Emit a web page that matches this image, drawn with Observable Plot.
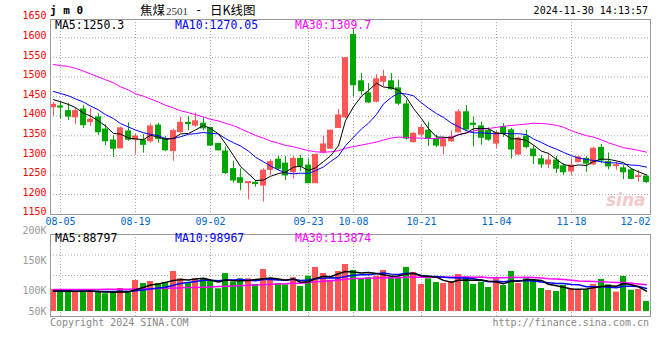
<!DOCTYPE html>
<html><head><meta charset="utf-8">
<script src="https://cdn.jsdelivr.net/npm/d3@7"></script>
<script src="https://cdn.jsdelivr.net/npm/@observablehq/plot@0.6"></script>
<style>
html,body{margin:0;padding:0;background:#fff;}
#wrap{position:relative;width:660px;height:360px;overflow:hidden;background:#fff;font-family:"DejaVu Sans Mono",monospace;}
#wrap svg{position:absolute;left:0;}
.t{position:absolute;white-space:pre;line-height:1;}
</style></head><body><div id="wrap"></div>
<script>
// ---------- data ----------
const dates = ["08-02",
"08-05","08-06","08-07","08-08","08-09","08-12","08-13","08-14","08-15","08-16",
"08-19","08-20","08-21","08-22","08-23","08-26","08-27","08-28","08-29","08-30",
"09-02","09-03","09-04","09-05","09-06","09-09","09-10","09-11","09-12","09-13",
"09-18","09-19","09-20","09-23","09-24","09-25","09-26","09-27","09-30",
"10-08","10-09","10-10","10-11","10-14","10-15","10-16","10-17","10-18",
"10-21","10-22","10-23","10-24","10-25","10-28","10-29","10-30","10-31","11-01",
"11-04","11-05","11-06","11-07","11-08","11-11","11-12","11-13","11-14","11-15",
"11-18","11-19","11-20","11-21","11-22","11-25","11-26","11-27","11-28","11-29","12-02"];
const opens = [1423,1425,1413,1397,1417,1385,1397,1366,1338,1318,1361,1340,1338,1336,1376,1342,1311,1359,1383,1376,
1381,1370,1329,1310,1265,1242,1229,1230,1223,1263,1289,1279,1257,1291,1274,1229,1307,1317,1370,1397,
1607,1489,1458,1437,1488,1489,1471,1430,1334,1353,1363,1342,1323,1336,1359,1410,1381,1374,1362,1330,
1372,1364,1302,1348,1315,1290,1277,1287,1272,1259,1283,1291,1277,1319,1283,1273,1267,1262,1245,1246];
const highs = [1435,1436,1432,1420,1427,1419,1406,1378,1350,1372,1383,1355,1353,1380,1382,1348,1367,1397,1399,1408,
1396,1372,1331,1321,1285,1266,1233,1236,1266,1289,1297,1297,1297,1300,1291,1303,1349,1364,1417,1549,
1624,1509,1483,1506,1517,1509,1492,1441,1358,1377,1385,1352,1346,1363,1417,1427,1398,1385,1370,1362,
1381,1369,1346,1364,1325,1300,1304,1297,1279,1291,1297,1297,1321,1328,1306,1283,1274,1266,1262,1249];
const lows = [1399,1393,1389,1378,1369,1374,1351,1325,1295,1317,1336,1303,1306,1331,1331,1310,1285,1357,1363,1372,
1363,1323,1311,1251,1229,1210,1187,1219,1181,1249,1261,1236,1240,1259,1228,1228,1304,1316,1370,1394,
1450,1454,1432,1434,1475,1466,1427,1339,1331,1347,1323,1320,1302,1333,1357,1362,1322,1326,1336,1318,
1346,1291,1302,1317,1277,1267,1267,1254,1249,1249,1281,1257,1274,1279,1263,1262,1238,1238,1232,1228];
const closes = [1429,1422,1399,1413,1377,1391,1359,1336,1317,1369,1340,1348,1327,1374,1342,1313,1362,1383,1380,1387,
1369,1325,1313,1255,1236,1230,1232,1227,1261,1283,1266,1249,1291,1272,1229,1301,1328,1363,1402,1548,
1479,1464,1435,1494,1500,1469,1432,1343,1355,1370,1342,1325,1340,1346,1410,1366,1378,1345,1340,1357,
1355,1315,1343,1321,1298,1277,1287,1266,1257,1274,1295,1279,1317,1287,1272,1275,1257,1240,1247,1232];
// volume (thousands, read on the panel's axis)
const volumes = [102.8,102.8,101.6,97.5,97.5,102.8,97.5,93.6,96.1,104.4,100,117.4,112.5,115.8,112.5,113.7,132.1,120.2,112.5,120.2,
120.2,117.4,103.9,128.8,114.7,120.2,120.2,110.9,135.4,120.2,112.5,110.4,121.9,107.7,124.4,138.6,128.8,117.9,132.1,143.5,
133.7,120.2,121.9,124.4,133.7,121.9,121.9,138.6,130.5,110.9,120.2,114.2,112.5,115.3,127.2,122.8,110.9,114.7,106,120.2,
109.3,132.1,112.5,120.2,118.5,104.4,101.1,99.3,109.3,103.9,102.3,102.3,110.9,119.1,110.4,97.8,123.9,101.6,102.8,74.6];
// moving-average values before the window holds enough days
const ma5Lead = [1442,1437,1430,1422];
const ma10Lead = [1463,1458,1452,1444,1436,1426,1416,1404,1394];
const ma30Lead = [1532,1529,1527,1522,1515,1508,1500,1493,1485,1475,1467,1457,1451,1444,1436,1428,1421,1414,1409,1404,1398,1392,1388,1382,1376,1368,1359,1351,1344];
const volMa5Lead = [100.5,100.5,100,100];
const volMa10Lead = [100.5,100.5,100.5,100,100,100,99.5,99.5,99.5];
const volMa30Lead = [102.8,102.8,102.8,102.8,102.8,102.8,102.8,103,103,103,103,103.5,104,104,104.5,105,105,105.5,106,106,106.5,107,107.5,108,108.5,109,109.5,110,110.5];
const priceTicks = [1150,1200,1250,1300,1350,1400,1450,1500,1550,1600,1650];
const volTicks = [50,100,150,200];
const tickDates = ["08-05","08-19","09-02","09-23","10-08","10-21","11-04","11-18","12-02"];
const maTexts = ["MA5:1250.3","MA10:1270.05","MA30:1309.7"];
const volMaTexts = ["MA5:88797","MA10:98967","MA30:113874"];

// ---------- build ----------
const RED = "#ff5555", GREEN = "#00a600";
const candles = dates.map((d,i)=>({i, date:d, open:opens[i], high:highs[i], low:lows[i], close:closes[i], vol:volumes[i]}));
const col = d => d.close >= d.open ? RED : GREEN;
function ma(arr, n, lead){ return arr.map((_,i)=>({i, v: i < n-1 ? lead[i] : d3.mean(arr.slice(i-n+1,i+1))})); }
const ma5 = ma(closes,5,ma5Lead), ma10 = ma(closes,10,ma10Lead), ma30 = ma(closes,30,ma30Lead);
const vma5 = ma(volumes,5,volMa5Lead), vma10 = ma(volumes,10,volMa10Lead), vma30 = ma(volumes,30,volMa30Lead);
const tickIdx = tickDates.map(t=>dates.indexOf(t));
const MONO = "'DejaVu Sans Mono', monospace";
const GRID = {stroke:"#a8a8a8", strokeOpacity:1, strokeDasharray:"1,2"};
const xDomain = [-0.36, 79.56];
const W = 660, ML = 50, MR = 10;

const price = Plot.plot({
  width:W, height:230, marginLeft:ML, marginRight:MR, marginTop:19, marginBottom:16,
  style:{background:"transparent", fontFamily:MONO, fontSize:"10px", overflow:"visible"},
  x:{domain:xDomain, round:true},
  y:{domain:[1150,1650], range:[213.7,17.7]},
  color:{type:"identity"},
  marks:[
    Plot.gridY(priceTicks.filter(v=>v>1150&&v<1650), GRID),
    Plot.gridX(tickIdx.slice(0,-1), GRID),
    Plot.ruleX(candles, {x:"i", y1:"low", y2:"high", stroke:col, strokeWidth:1}),
    Plot.rect(candles, {x1:d=>d.i-0.4, x2:d=>d.i+0.4, y1:"open", y2:"close", fill:col, insetTop:-0.5, insetBottom:-0.5}),
    Plot.line(ma30, {x:"i", y:"v", stroke:"#ff00ff", strokeWidth:1, clip:true}),
    Plot.line(ma10, {x:"i", y:"v", stroke:"#0000ff", strokeWidth:1, clip:true}),
    Plot.line(ma5, {x:"i", y:"v", stroke:"#000000", strokeWidth:1, clip:true}),
    Plot.frame({stroke:"#999"}),
    Plot.axisY(priceTicks, {tickSize:0, tickPadding:4, fill:"#ff0000", dy:-2, label:null, tickFormat:d=>String(d)}),
    Plot.axisX(tickIdx.slice(0,-1), {tickSize:0, tickPadding:3, fill:"#0066cc", label:null, tickFormat:i=>dates[i]}),
    Plot.axisX(tickIdx.slice(-1), {tickSize:0, tickPadding:3, fill:"#0066cc", label:null, tickFormat:i=>dates[i], textAnchor:"end", dx:4})
  ]
});
price.style.top = "0px";

// volume panel: its axis labels are unevenly spaced, so the scale is piecewise
const VT = 220, VH = 100, VMT = 14, VMB = 4;
const volLift = d3.scaleLinear().domain(volTicks).range([0, 20.3, 51, 80.3]); // height above the 50K baseline
const baseY = 91, topLift = 80.3;
const quarterVals = [1,2,3].map(k=>{
  const px = VMT + k*((VH-VMB)-VMT)/4;
  return volLift.invert(baseY - px);
});
const vol = Plot.plot({
  width:W, height:VH, marginLeft:ML, marginRight:MR, marginTop:VMT, marginBottom:VMB,
  style:{background:"transparent", fontFamily:MONO, fontSize:"10px", overflow:"visible"},
  x:{domain:xDomain, round:true, axis:null},
  y:{transform:volLift, domain:[0, topLift], range:[baseY, baseY-topLift]},
  color:{type:"identity"},
  marks:[
    Plot.ruleY(quarterVals, GRID),
    Plot.gridX(tickIdx.slice(0,-1), GRID),
    Plot.rect(candles, {x1:d=>d.i-0.4, x2:d=>d.i+0.4, y1:()=>volTicks[0], y2:"vol", fill:col}),
    Plot.line(vma30, {x:"i", y:"v", stroke:"#ff00ff", strokeWidth:1.5, clip:true}),
    Plot.line(vma10, {x:"i", y:"v", stroke:"#0000ff", strokeWidth:1.5, clip:true}),
    Plot.line(vma5, {x:"i", y:"v", stroke:"#000000", strokeWidth:1.5, clip:true}),
    Plot.frame({stroke:"#999"}),
    Plot.axisY(volTicks, {tickSize:0, tickPadding:4, fill:"#999", label:null, tickFormat:d=>d+"K"})
  ]
});
vol.style.top = VT + "px";

const wrap = document.getElementById("wrap");
wrap.appendChild(price);
wrap.appendChild(vol);

function addText(txt, css){
  const el = document.createElement("div");
  el.className = "t"; el.textContent = txt;
  Object.assign(el.style, css);
  wrap.appendChild(el); return el;
}
// header
addText("j m 0", {left:"50px", top:"5px", fontSize:"11px", fontWeight:"bold", color:"#000"});
addText("焦煤", {left:"140px", top:"4px", fontSize:"12.5px", fontFamily:"'Noto Sans CJK SC',sans-serif", color:"#000"});
addText("2501", {left:"166px", top:"6px", fontSize:"11px", fontFamily:"'Liberation Serif',serif", color:"#333"});
addText("-", {left:"195px", top:"4px", fontSize:"12px", fontFamily:MONO, color:"#000"});
addText("日K线图", {left:"210px", top:"4px", fontSize:"12.5px", fontFamily:"'Noto Sans CJK SC',sans-serif", color:"#000"});
addText("2024-11-30 14:13:57", {right:"12px", top:"6px", fontSize:"10px", color:"#000"});
// MA legends
const maCols = ["#000000","#0000ff","#ff00ff"], maLeft = [55,175,295];
maTexts.forEach((t,k)=>addText(t,{left:maLeft[k]+"px", top:"19.5px", fontSize:"11.5px", color:maCols[k]}));
volMaTexts.forEach((t,k)=>addText(t,{left:maLeft[k]+"px", top:"233px", fontSize:"11.5px", color:maCols[k]}));
// watermark & footer
addText("sina", {left:"606px", top:"192px", fontSize:"17px", fontWeight:"bold", fontStyle:"italic", fontFamily:"'DejaVu Sans',sans-serif", color:"#f3caca"});
addText("Copyright 2024 SINA.COM", {left:"50px", top:"318px", fontSize:"10px", color:"#888"});
addText("http://finance.sina.com.cn", {right:"11px", top:"318px", fontSize:"10px", color:"#888"});
</script></body></html>
